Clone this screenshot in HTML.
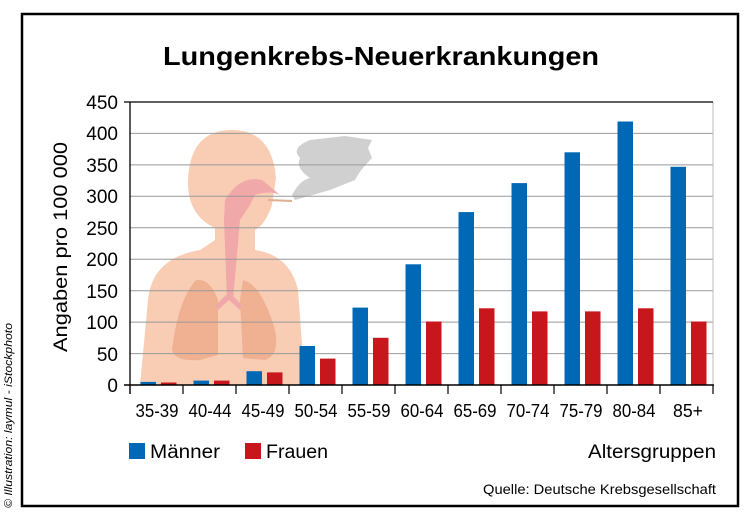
<!DOCTYPE html>
<html><head><meta charset="utf-8"><style>
html,body{margin:0;padding:0;background:#fff;}
svg{display:block;font-family:"Liberation Sans",sans-serif;}
</style></head><body>
<svg width="746" height="516" viewBox="0 0 746 516" xmlns="http://www.w3.org/2000/svg">
<rect x="22" y="14" width="716" height="492" fill="#fff" stroke="#000" stroke-width="2.5"/>
<text x="12" y="508" transform="rotate(-90 12 508)" font-size="11" font-style="italic" fill="#000" textLength="185" lengthAdjust="spacingAndGlyphs">© Illustration: laymul - iStockphoto</text>
<text x="381" y="65" text-anchor="middle" font-size="26" font-weight="bold" textLength="436" lengthAdjust="spacingAndGlyphs">Lungenkrebs-Neuerkrankungen</text>
<g>
<path d="M140 385 L148 300 Q152 258 200 250 L215 240 L215 228 Q187 215 188 180 Q190 130 232 130 Q272 130 276 178 L272 205 Q265 225 255 230 L255 250 Q290 255 298 290 L305 385 Z" fill="#f8cdb4"/>
<path d="M225 200 Q240 175 262 180 L280 195 Q270 190 255 195 L250 205 L240 220 L233 300 L227 300 L224 220 Z" fill="#f0a8a8"/>
<path d="M196 280 Q178 300 172 350 Q175 362 200 360 L218 355 L218 300 Q210 278 196 280Z" fill="#f0b092"/>
<path d="M243 280 Q262 285 275 330 Q280 355 265 360 L243 358 L240 300Z" fill="#f0b092"/>
<path d="M226 295 L216 305 L218 310 L229 300 L240 310 L242 305 L232 295Z" fill="#f0a8a8"/>
<path d="M268 200 L292 201" stroke="#e0b090" stroke-width="2"/>
<path d="M292 195 Q300 180 310 178 Q295 168 300 158 Q290 148 310 140 L345 136 L372 140 L368 148 L372 158 Q360 170 355 180 L330 190 L295 200 Z" fill="#d0d0d0"/>
</g>
<g stroke="#999" stroke-width="1">
<line x1="130" y1="133.4" x2="713" y2="133.4"/><line x1="130" y1="164.9" x2="713" y2="164.9"/>
<line x1="130" y1="196.3" x2="713" y2="196.3"/><line x1="130" y1="227.8" x2="713" y2="227.8"/>
<line x1="130" y1="259.2" x2="713" y2="259.2"/><line x1="130" y1="290.7" x2="713" y2="290.7"/>
<line x1="130" y1="322.1" x2="713" y2="322.1"/><line x1="130" y1="353.6" x2="713" y2="353.6"/>
<line x1="713" y1="102" x2="713" y2="385" stroke="#bbb"/>
</g>
<line x1="124" y1="102" x2="713" y2="102" stroke="#000" stroke-width="1.3"/>
<g fill="#0068b4">
<rect x="140.5" y="381.9" width="15.5" height="3.1"/>
<rect x="193.5" y="380.6" width="15.5" height="4.4"/>
<rect x="246.5" y="371.2" width="15.5" height="13.8"/>
<rect x="299.5" y="346.0" width="15.5" height="39.0"/>
<rect x="352.5" y="307.6" width="15.5" height="77.4"/>
<rect x="405.5" y="264.3" width="15.5" height="120.7"/>
<rect x="458.5" y="212.1" width="15.5" height="172.9"/>
<rect x="511.5" y="183.1" width="15.5" height="201.9"/>
<rect x="564.5" y="152.3" width="15.5" height="232.7"/>
<rect x="617.5" y="121.5" width="15.5" height="263.5"/>
<rect x="670.5" y="166.8" width="15.5" height="218.2"/>
</g>
<g fill="#c8161d">
<rect x="161" y="382.5" width="15.5" height="2.5"/>
<rect x="214" y="380.6" width="15.5" height="4.4"/>
<rect x="267" y="372.4" width="15.5" height="12.6"/>
<rect x="320" y="358.6" width="15.5" height="26.4"/>
<rect x="373" y="337.8" width="15.5" height="47.2"/>
<rect x="426" y="321.5" width="15.5" height="63.5"/>
<rect x="479" y="308.3" width="15.5" height="76.7"/>
<rect x="532" y="311.4" width="15.5" height="73.6"/>
<rect x="585" y="311.4" width="15.5" height="73.6"/>
<rect x="638" y="308.3" width="15.5" height="76.7"/>
<rect x="691" y="321.5" width="15.5" height="63.5"/>
</g>
<g stroke="#000" stroke-width="1.2">
<line x1="130" y1="385" x2="130" y2="394"/><line x1="183" y1="385" x2="183" y2="394"/><line x1="236" y1="385" x2="236" y2="394"/><line x1="289" y1="385" x2="289" y2="394"/><line x1="342" y1="385" x2="342" y2="394"/><line x1="395" y1="385" x2="395" y2="394"/><line x1="448" y1="385" x2="448" y2="394"/><line x1="501" y1="385" x2="501" y2="394"/><line x1="554" y1="385" x2="554" y2="394"/><line x1="607" y1="385" x2="607" y2="394"/><line x1="660" y1="385" x2="660" y2="394"/><line x1="713" y1="385" x2="713" y2="394"/>
</g>
<line x1="124" y1="385" x2="714" y2="385" stroke="#000" stroke-width="1.5"/>
<line x1="130" y1="102" x2="130" y2="394" stroke="#000" stroke-width="1.3"/>
<g font-size="18" text-anchor="middle" fill="#000">
<text x="157" y="417" textLength="43" lengthAdjust="spacingAndGlyphs">35-39</text>
<text x="210" y="417" textLength="43" lengthAdjust="spacingAndGlyphs">40-44</text>
<text x="263" y="417" textLength="43" lengthAdjust="spacingAndGlyphs">45-49</text>
<text x="316" y="417" textLength="43" lengthAdjust="spacingAndGlyphs">50-54</text>
<text x="369" y="417" textLength="43" lengthAdjust="spacingAndGlyphs">55-59</text>
<text x="422" y="417" textLength="43" lengthAdjust="spacingAndGlyphs">60-64</text>
<text x="475" y="417" textLength="43" lengthAdjust="spacingAndGlyphs">65-69</text>
<text x="528" y="417" textLength="43" lengthAdjust="spacingAndGlyphs">70-74</text>
<text x="581" y="417" textLength="43" lengthAdjust="spacingAndGlyphs">75-79</text>
<text x="634" y="417" textLength="43" lengthAdjust="spacingAndGlyphs">80-84</text>
<text x="688" y="417" textLength="30" lengthAdjust="spacingAndGlyphs">85+</text>
</g>
<g font-size="19" fill="#000" text-anchor="end">
<text x="118" y="109">450</text><text x="118" y="140">400</text><text x="118" y="172">350</text><text x="118" y="203">300</text><text x="118" y="235">250</text><text x="118" y="266">200</text><text x="118" y="298">150</text><text x="118" y="329">100</text><text x="118" y="361">50</text><text x="118" y="392">0</text>
</g>
<text x="67" y="352" transform="rotate(-90 67 352)" font-size="19" textLength="210" lengthAdjust="spacingAndGlyphs">Angaben pro 100 000</text>
<rect x="129" y="443" width="16" height="16" fill="#0068b4"/>
<text x="150" y="458" font-size="19" textLength="70" lengthAdjust="spacingAndGlyphs">Männer</text>
<rect x="245" y="443" width="16" height="16" fill="#c8161d"/>
<text x="266" y="458" font-size="19" textLength="62" lengthAdjust="spacingAndGlyphs">Frauen</text>
<text x="716" y="458" font-size="19" text-anchor="end" textLength="128" lengthAdjust="spacingAndGlyphs">Altersgruppen</text>
<text x="716" y="494" font-size="14" text-anchor="end" textLength="233" lengthAdjust="spacingAndGlyphs">Quelle: Deutsche Krebsgesellschaft</text>
</svg>
</body></html>
